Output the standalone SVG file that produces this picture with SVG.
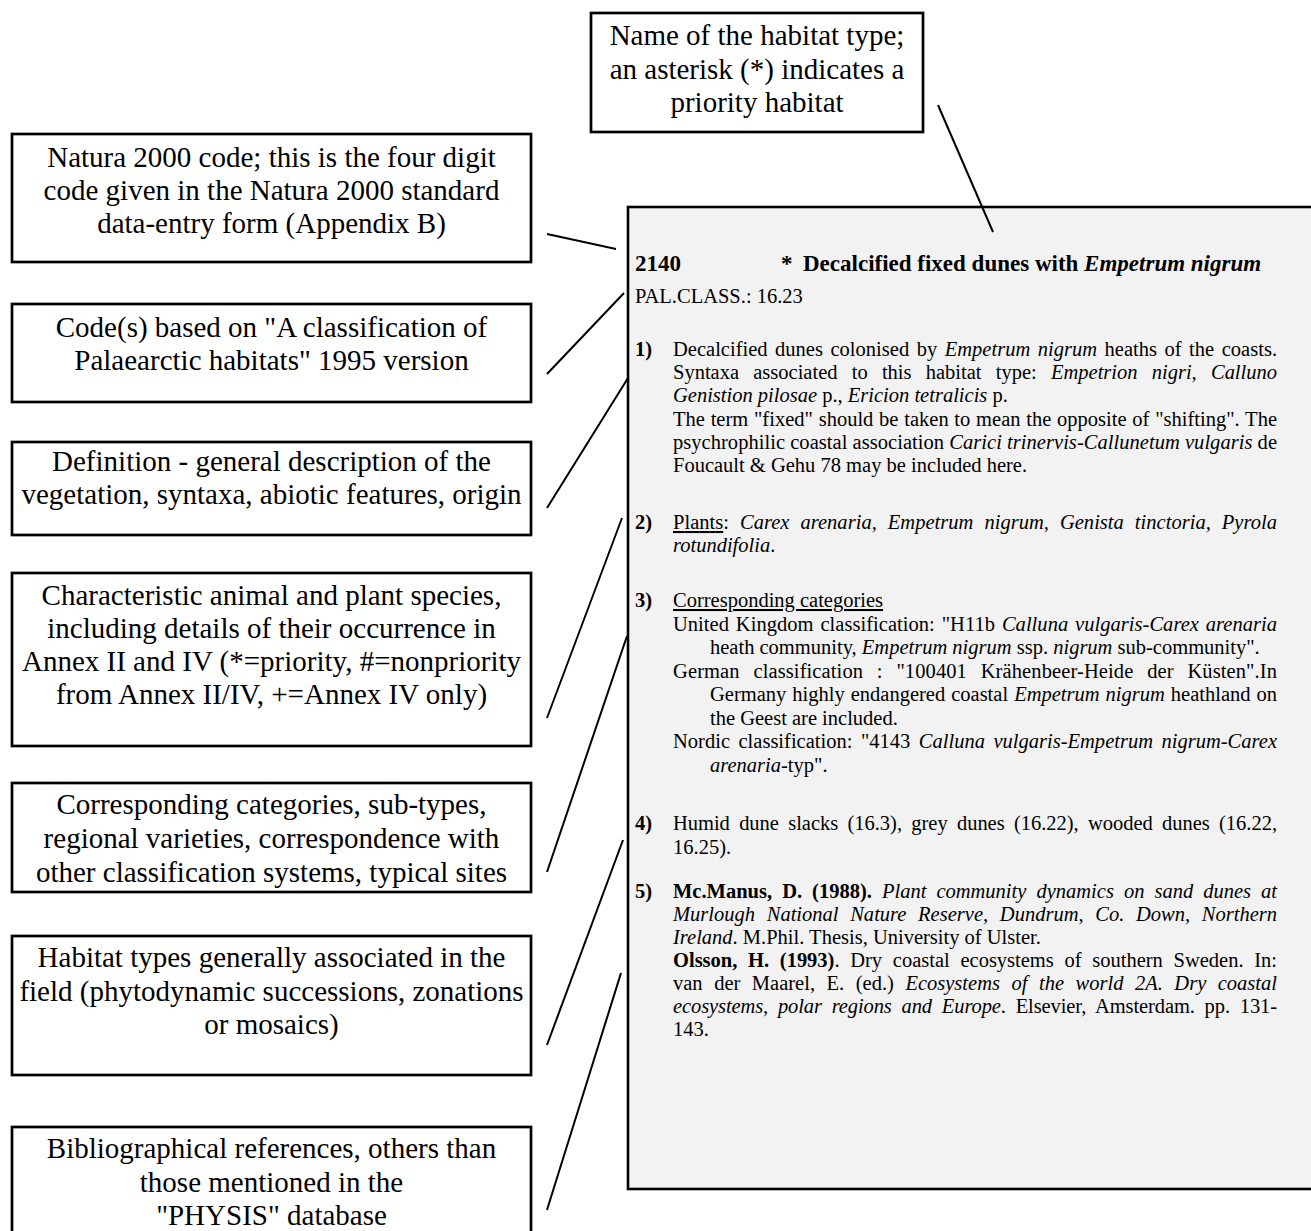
<svg xmlns="http://www.w3.org/2000/svg" width="1311" height="1231" viewBox="0 0 1311 1231">
<style>
.box{fill:#fff;stroke:#000;stroke-width:2.7}
.lbl{font-family:"Liberation Serif","Times New Roman",serif;font-size:29px;text-anchor:middle;fill:#000}
.conn line{stroke:#000;stroke-width:2}
.panel{fill:#f2f2f2;stroke:#000;stroke-width:2.6}
.body{font-family:"Liberation Serif","Times New Roman",serif;font-size:20.5px;fill:#000}
.title{font-family:"Liberation Serif","Times New Roman",serif;font-size:23px;font-weight:bold;fill:#000}
.b{font-weight:bold}
.i{font-style:italic}
.u{text-decoration:underline}
</style>
<rect width="1311" height="1231" fill="#fff"/>

<g id="panel">
<rect class="panel" x="628" y="207" width="720" height="982"/>
<text class="title" x="635" y="271">2140</text>
<text class="title" x="781" y="271">*</text>
<text class="title" x="803" y="271">Decalcified fixed dunes with <tspan class="i">Empetrum nigrum</tspan></text>
<text class="body" x="635" y="303">PAL.CLASS.: 16.23</text>

<text class="body b" x="635" y="356">1)</text>
<text class="body" x="673" y="356" word-spacing="2.4" textLength="604" lengthAdjust="spacing">Decalcified dunes colonised by <tspan class="i">Empetrum nigrum</tspan> heaths of the coasts.</text>
<text class="body" x="673" y="379" word-spacing="9.1" textLength="604" lengthAdjust="spacing">Syntaxa associated to this habitat type: <tspan class="i">Empetrion nigri, Calluno</tspan></text>
<text class="body" x="673" y="402"><tspan class="i">Genistion pilosae</tspan> p., <tspan class="i">Ericion tetralicis</tspan> p.</text>
<text class="body" x="673" y="425.5" word-spacing="0.6" textLength="604" lengthAdjust="spacing">The term "fixed" should be taken to mean the opposite of "shifting". The</text>
<text class="body" x="673" y="449" textLength="604" lengthAdjust="spacing">psychrophilic coastal association <tspan class="i">Carici trinervis-Callunetum vulgaris</tspan> de</text>
<text class="body" x="673" y="472">Foucault &amp; Gehu 78 may be included here.</text>

<text class="body b" x="635" y="529">2)</text>
<text class="body" x="673" y="529" word-spacing="5.8" textLength="604" lengthAdjust="spacing"><tspan class="u">Plants</tspan>: <tspan class="i">Carex arenaria, Empetrum nigrum, Genista tinctoria, Pyrola</tspan></text>
<text class="body" x="673" y="552"><tspan class="i">rotundifolia</tspan>.</text>

<text class="body b" x="635" y="607">3)</text>
<text class="body u" x="673" y="607">Corresponding categories</text>
<text class="body" x="673" y="630.5" word-spacing="1.7" textLength="604" lengthAdjust="spacing">United Kingdom classification: "H11b <tspan class="i">Calluna vulgaris-Carex arenaria</tspan></text>
<text class="body" x="710" y="654">heath community, <tspan class="i">Empetrum nigrum</tspan> ssp. <tspan class="i">nigrum</tspan> sub-community".</text>
<text class="body" x="673" y="677.5" word-spacing="8.5" textLength="604" lengthAdjust="spacing">German classification : "100401 Krähenbeer-Heide der Küsten".In</text>
<text class="body" x="710" y="701" word-spacing="0.9" textLength="567" lengthAdjust="spacing">Germany highly endangered coastal <tspan class="i">Empetrum nigrum</tspan> heathland on</text>
<text class="body" x="710" y="724.5">the Geest are included.</text>
<text class="body" x="673" y="748" word-spacing="3.3" textLength="604" lengthAdjust="spacing">Nordic classification: "4143 <tspan class="i">Calluna vulgaris-Empetrum nigrum-Carex</tspan></text>
<text class="body" x="710" y="771.5"><tspan class="i">arenaria</tspan>-typ".</text>

<text class="body b" x="635" y="830">4)</text>
<text class="body" x="673" y="830" word-spacing="4.2" textLength="604" lengthAdjust="spacing">Humid dune slacks (16.3), grey dunes (16.22), wooded dunes (16.22,</text>
<text class="body" x="673" y="853.5">16.25).</text>

<text class="body b" x="635" y="898">5)</text>
<text class="body" x="673" y="898" word-spacing="4.9" textLength="604" lengthAdjust="spacing"><tspan class="b">Mc.Manus, D. (1988).</tspan> <tspan class="i">Plant community dynamics on sand dunes at</tspan></text>
<text class="body i" x="673" y="921" word-spacing="6.5" textLength="604" lengthAdjust="spacing">Murlough National Nature Reserve, Dundrum, Co. Down, Northern</text>
<text class="body" x="673" y="944"><tspan class="i">Ireland</tspan>. M.Phil. Thesis, University of Ulster.</text>
<text class="body" x="673" y="967" word-spacing="5.6" textLength="604" lengthAdjust="spacing"><tspan class="b">Olsson, H. (1993)</tspan>. Dry coastal ecosystems of southern Sweden. In:</text>
<text class="body" x="673" y="990" word-spacing="6.4" textLength="604" lengthAdjust="spacing">van der Maarel, E. (ed.) <tspan class="i">Ecosystems of the world 2A. Dry coastal</tspan></text>
<text class="body" x="673" y="1013" word-spacing="4.8" textLength="604" lengthAdjust="spacing"><tspan class="i">ecosystems, polar regions and Europe</tspan>. Elsevier, Amsterdam. pp. 131-</text>
<text class="body" x="673" y="1036">143.</text>
</g>

<g id="name-box">
<rect class="box" x="591" y="13" width="332" height="119"/>
<text class="lbl" x="757" y="45">Name of the habitat type;</text>
<text class="lbl" x="757" y="79">an asterisk (*) indicates a</text>
<text class="lbl" x="757" y="112">priority habitat</text>
</g>

<g id="natura-box">
<rect class="box" x="12" y="134" width="519" height="128"/>
<text class="lbl" x="271.5" y="167">Natura 2000 code; this is the four digit</text>
<text class="lbl" x="271.5" y="200">code given in the Natura 2000 standard</text>
<text class="lbl" x="271.5" y="233">data-entry form (Appendix B)</text>
</g>

<g id="palclass-box">
<rect class="box" x="12" y="304" width="519" height="98"/>
<text class="lbl" x="271.5" y="337">Code(s) based on "A classification of</text>
<text class="lbl" x="271.5" y="370">Palaearctic habitats" 1995 version</text>
</g>

<g id="definition-box">
<rect class="box" x="12" y="442" width="519" height="93"/>
<text class="lbl" x="271.5" y="471">Definition - general description of the</text>
<text class="lbl" x="271.5" y="504">vegetation, syntaxa, abiotic features, origin</text>
</g>

<g id="species-box">
<rect class="box" x="12" y="573" width="519" height="173"/>
<text class="lbl" x="271.5" y="605">Characteristic animal and plant species,</text>
<text class="lbl" x="271.5" y="638">including details of their occurrence in</text>
<text class="lbl" x="271.5" y="671">Annex II and IV (*=priority, #=nonpriority</text>
<text class="lbl" x="271.5" y="704">from Annex II/IV, +=Annex IV only)</text>
</g>

<g id="categories-box">
<rect class="box" x="12" y="783" width="519" height="109"/>
<text class="lbl" x="271.5" y="814">Corresponding categories, sub-types,</text>
<text class="lbl" x="271.5" y="848">regional varieties, correspondence with</text>
<text class="lbl" x="271.5" y="882">other classification systems, typical sites</text>
</g>

<g id="associated-box">
<rect class="box" x="12" y="936" width="519" height="139"/>
<text class="lbl" x="271.5" y="967">Habitat types generally associated in the</text>
<text class="lbl" x="271.5" y="1001">field (phytodynamic successions, zonations</text>
<text class="lbl" x="271.5" y="1034">or mosaics)</text>
</g>

<g id="references-box">
<rect class="box" x="12" y="1127" width="519" height="130"/>
<text class="lbl" x="271.5" y="1158">Bibliographical references, others than</text>
<text class="lbl" x="271.5" y="1192">those mentioned in the</text>
<text class="lbl" x="271.5" y="1225">"PHYSIS" database</text>
</g>

<g id="connectors" class="conn">
<line x1="938" y1="105" x2="993" y2="232"/>
<line x1="547" y1="234" x2="616" y2="249"/>
<line x1="547" y1="374" x2="624" y2="293"/>
<line x1="547" y1="508" x2="628" y2="378"/>
<line x1="547" y1="718" x2="622" y2="518"/>
<line x1="547" y1="872" x2="627" y2="636"/>
<line x1="547" y1="1045" x2="623" y2="840"/>
<line x1="547" y1="1210" x2="621" y2="973"/>
</g>
</svg>
